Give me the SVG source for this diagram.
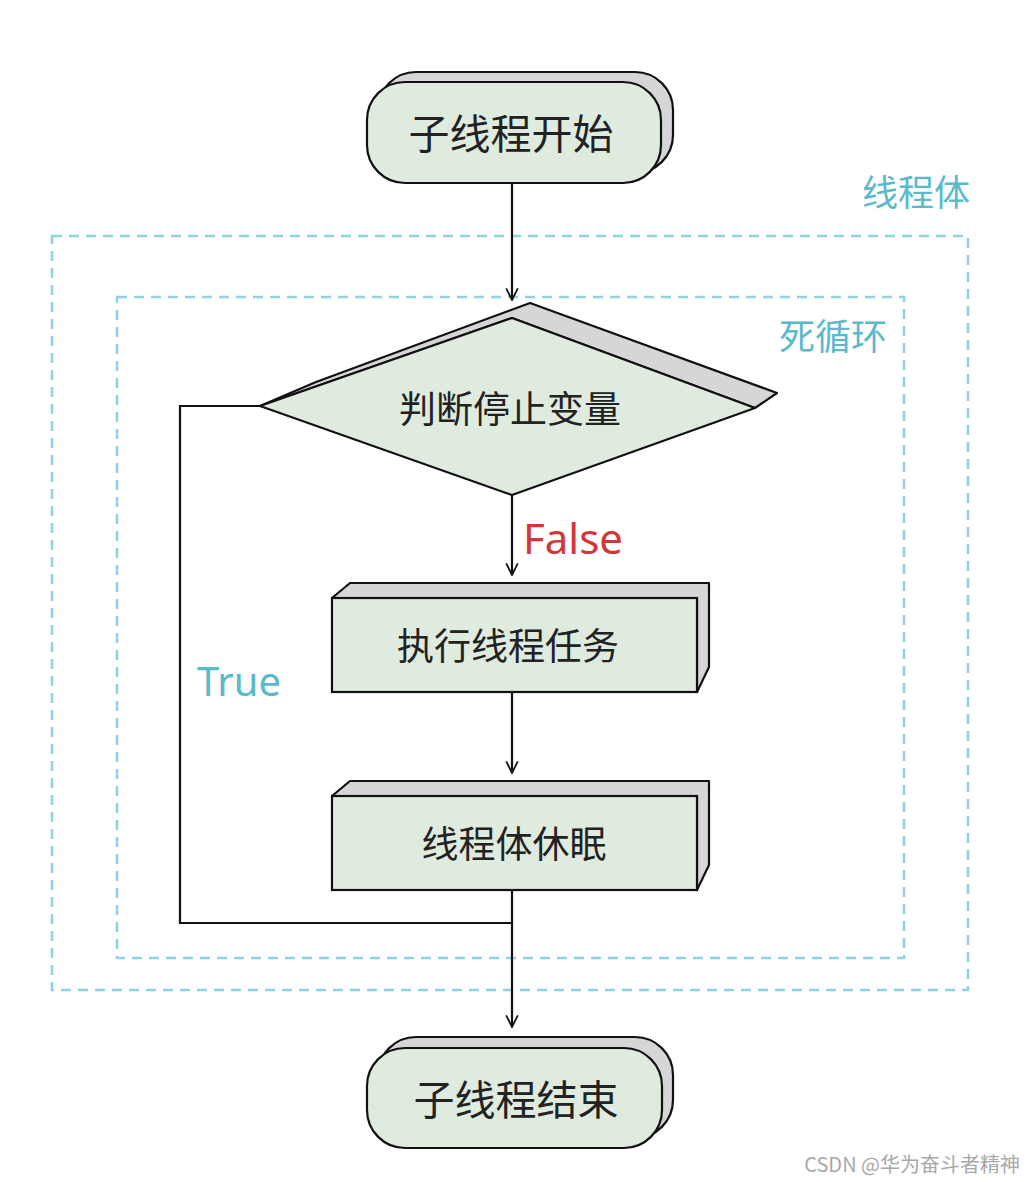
<svg xmlns="http://www.w3.org/2000/svg" width="1035" height="1182" viewBox="0 0 1035 1182">
<defs>
<style>
.node{fill:#dfebdf;stroke:#111;stroke-width:2.2}
.shadow{fill:#d6d6d6;stroke:#111;stroke-width:2.2;stroke-linejoin:round}
.txt{font-family:"Noto Sans CJK SC","Noto Sans",sans-serif;fill:#222;text-anchor:middle;dominant-baseline:central}
.box{fill:none;stroke:#8fd3e2;stroke-width:2.5;stroke-dasharray:10 7}
.lbl{font-family:"Noto Sans CJK SC","Noto Sans",sans-serif;fill:#5ab9cb;dominant-baseline:central}
.line{fill:none;stroke:#111;stroke-width:2.2}
</style>
<marker id="arr" viewBox="0 0 24 24" refX="22" refY="12" markerWidth="14" markerHeight="14" orient="auto" markerUnits="userSpaceOnUse">
<path d="M2,2 L22,12 L2,22" fill="none" stroke="#111" stroke-width="3"/>
</marker>
</defs>
<rect width="1035" height="1182" fill="#fff"/>
<g id="thread-body">
<rect class="box" x="52" y="236" width="916" height="754"/>
<text class="lbl" x="916" y="190" font-size="36" text-anchor="middle">线程体</text>
</g>
<g id="dead-loop">
<rect class="box" x="117" y="297" width="787" height="661"/>
<text class="lbl" x="833" y="334" font-size="36" text-anchor="middle">死循环</text>
</g>
<g id="connectors">
<line class="line" x1="512" y1="183" x2="512" y2="300" marker-end="url(#arr)"/>
<line class="line" x1="512" y1="495" x2="512" y2="575" marker-end="url(#arr)"/>
<line class="line" x1="512" y1="692" x2="512" y2="773" marker-end="url(#arr)"/>
<line class="line" x1="512" y1="890" x2="512" y2="1027" marker-end="url(#arr)"/>
<polyline class="line" points="512,923 180,923 180,406 260,406"/>
<text x="523" y="537" font-family="Noto Sans, sans-serif" font-size="42" fill="#d2363b" dominant-baseline="central">False</text>
<text x="197" y="680" font-family="Noto Sans, sans-serif" font-size="40" fill="#5ab9cb" dominant-baseline="central">True</text>
</g>
<g id="start">
<rect class="shadow" x="378" y="72" width="295" height="101" rx="38"/>
<rect class="node" x="367" y="82" width="294" height="101" rx="38"/>
<text class="txt" x="511" y="131" font-size="41">子线程开始</text>
</g>
<g id="decision">
<polygon class="shadow" points="260,406 316,382 530,303 777,393 755,408 512,318"/>
<polygon class="node" points="260,406 512,318 755,408 512,495" stroke-linejoin="round"/>
<text class="txt" x="510" y="407" font-size="37">判断停止变量</text>
</g>
<g id="task">
<polygon class="shadow" points="332,598 350,583 709,583 709,667 697,692 697,598"/>
<rect class="node" x="332" y="598" width="365" height="94"/>
<text class="txt" x="508" y="644" font-size="37">执行线程任务</text>
</g>
<g id="sleep">
<polygon class="shadow" points="332,796 350,781 709,781 709,865 697,890 697,796"/>
<rect class="node" x="332" y="796" width="365" height="94"/>
<text class="txt" x="514" y="842" font-size="37">线程体休眠</text>
</g>
<g id="end">
<rect class="shadow" x="378" y="1037" width="295" height="101" rx="38"/>
<rect class="node" x="367" y="1048" width="295" height="100" rx="38"/>
<text class="txt" x="516" y="1097" font-size="41">子线程结束</text>
</g>
<text x="1020" y="1163" font-family="Noto Sans CJK SC, sans-serif" font-size="20" fill="#a8a8a8" text-anchor="end" dominant-baseline="central">CSDN @华为奋斗者精神</text>
</svg>
